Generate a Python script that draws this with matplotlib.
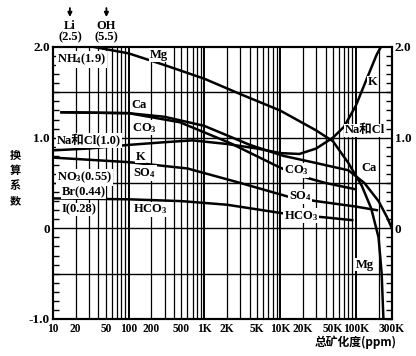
import numpy as np
import matplotlib

matplotlib.use("Agg")
import matplotlib.pyplot as plt


# curve data (x: total mineralization ppm, y: factor)
mg_x = [35, 100, 300, 1000, 3000, 10000, 30000, 50000, 80000, 120000, 160000, 200000, 220000, 232000]
mg_y = [2.0, 1.93, 1.8, 1.65, 1.48, 1.3, 1.08, 0.96, 0.72, 0.47, 0.22, -0.1, -0.5, -1.0]

ca_x = [13, 100, 300, 1000, 4000, 11000, 30000, 80000, 130000, 200000, 260000, 300000]
ca_y = [1.28, 1.27, 1.23, 1.13, 0.92, 0.8, 0.72, 0.64, 0.5, 0.3, 0.12, 0.0]

co3_x = [13, 100, 475, 2200, 10000, 18000, 40000, 100000]
co3_y = [1.28, 1.27, 1.17, 0.94, 0.67, 0.58, 0.5, 0.43]

k_x = [10, 30, 100, 300, 700, 2000, 5000, 10000, 18000, 30000, 50000, 70000, 100000, 140000, 190000, 215000]
k_y = [0.86, 0.88, 0.92, 0.95, 0.97, 0.93, 0.88, 0.83, 0.82, 0.88, 1.0, 1.12, 1.35, 1.65, 1.92, 2.0]

so4_x = [10, 100, 600, 3000, 12700, 30000, 100000, 190000]
so4_y = [0.78, 0.73, 0.66, 0.5, 0.35, 0.3, 0.24, 0.2]

hco3_x = [10, 100, 500, 2000, 12000, 40000, 90000]
hco3_y = [0.33, 0.32, 0.3, 0.26, 0.16, 0.12, 0.09]

x_ticks = [10, 20, 50, 100, 200, 500, 1000, 2000, 5000, 10000, 20000, 50000, 100000, 300000]
x_labels = ["10", "20", "50", "100", "200", "500", "1K", "2K", "5K", "10K", "20K", "50K", "100K", "300K"]
y_ticks = [-1.0, 0, 1.0, 2.0]
y_labels = ["-1.0", "0", "1.0", "2.0"]
r_ticks = [0, 1.0, 2.0]
r_labels = ["0", "1.0", "2.0"]

plt.rcParams["font.family"] = ["Liberation Serif", "Noto Sans CJK SC"]
plt.rcParams["font.weight"] = "bold"
plt.rcParams["mathtext.fontset"] = "custom"
plt.rcParams["mathtext.rm"] = "Liberation Serif:bold"
plt.rcParams["mathtext.it"] = "Liberation Serif:bold"

fig = plt.figure(figsize=(4.16, 3.56), dpi=100)
ax = fig.add_axes([0.127, 0.104, 0.815, 0.764])
ax.set_xscale("log")
ax.set_xlim(10, 300000)
ax.set_ylim(-1.0, 2.0)

# grid: vertical at 2..9 x decade, horizontal every 0.5
vlines = [m * 10 ** k for k in range(1, 5) for m in range(2, 11)] + [200000]
for v in vlines:
    lw = 1.4 if v in (100, 1000, 10000, 100000) else 0.9
    ax.axvline(v, color="black", lw=lw, zorder=1)
for h in [-0.5, 0, 0.5, 1.0, 1.5]:
    ax.axhline(h, color="black", lw=1.0, zorder=1)

for xs, ys in [(mg_x, mg_y), (ca_x, ca_y), (co3_x, co3_y), (k_x, k_y), (so4_x, so4_y), (hco3_x, hco3_y)]:
    ax.plot(xs, ys, color="black", lw=1.8, zorder=3)

for s in ax.spines.values():
    s.set_linewidth(1.5)

ax.set_xticks(x_ticks)
ax.set_xticklabels(x_labels, fontsize=8.3)
ax.xaxis.set_minor_locator(matplotlib.ticker.NullLocator())
ax.tick_params(axis="x", length=0, pad=3)
ax.set_yticks(y_ticks)
ax.set_yticklabels(y_labels, fontsize=9.5)
ax.set_yticks(np.arange(-1.0, 2.01, 0.1), minor=True)
ax.tick_params(axis="y", which="major", length=0, pad=2)
ax.tick_params(axis="y", which="minor", direction="in", length=4, width=1)

# right side ticks and labels
ax2 = ax.twinx()
ax2.set_ylim(-1.0, 2.0)
ax2.set_yticks(r_ticks)
ax2.set_yticklabels(r_labels, fontsize=9.5)
ax2.set_yticks(np.arange(-1.0, 2.01, 0.1), minor=True)
ax2.tick_params(axis="y", which="major", length=0, pad=2)
ax2.tick_params(axis="y", which="minor", direction="in", length=4, width=1)
for s in ax2.spines.values():
    s.set_linewidth(1.5)

box = dict(facecolor="white", edgecolor="none", pad=0.5)
fs = 9
labels = [
    (11.3, 1.86, r"NH$_4$(1.9)"),
    (190, 1.91, "Mg"),
    (110, 1.36, "Ca"),
    (110, 1.11, r"CO$_3$"),
    (11.3, 0.97, "Na和Cl(1.0)"),
    (125, 0.79, "K"),
    (114, 0.61, r"SO$_4$"),
    (11.3, 0.56, r"NO$_3$(0.55)"),
    (13.1, 0.40, "Br(0.44)"),
    (13.1, 0.21, "I(0.28)"),
    (114, 0.21, r"HCO$_3$"),
    (145000, 1.61, "K"),
    (72000, 1.08, "Na和Cl"),
    (117000, 0.66, "Ca"),
    (11200, 0.64, r"CO$_3$"),
    (13000, 0.35, r"SO$_4$"),
    (11200, 0.14, r"HCO$_3$"),
    (100000, -0.40, "Mg"),
]
for lx, ly, t in labels:
    ax.text(lx, ly, t, fontsize=fs, ha="left", va="center", bbox=box, zorder=4)

# top markers for Li and OH
for px, t in [(16.8, "Li\n(2.5)"), (51, "OH\n(5.5)")]:
    ax.text(px, 2.04, t, fontsize=9, ha="center", va="bottom", linespacing=0.95)
    ax.annotate("", xy=(px, 2.3), xytext=(px, 2.46), xycoords="data",
                arrowprops=dict(arrowstyle="-|>", color="black", lw=1.3, mutation_scale=6),
                annotation_clip=False)

fig.text(0.036, 0.5, "换\n算\n系\n数", fontsize=8, ha="center", va="center",
         linespacing=1.2, family=["Noto Sans CJK SC"], fontweight="bold")
fig.text(0.855, 0.04, "总矿化度(ppm)", fontsize=8.5, ha="center", va="center",
         family=["Noto Sans CJK SC", "DejaVu Sans"], fontweight="bold")

fig.savefig("out.png", dpi=100)
